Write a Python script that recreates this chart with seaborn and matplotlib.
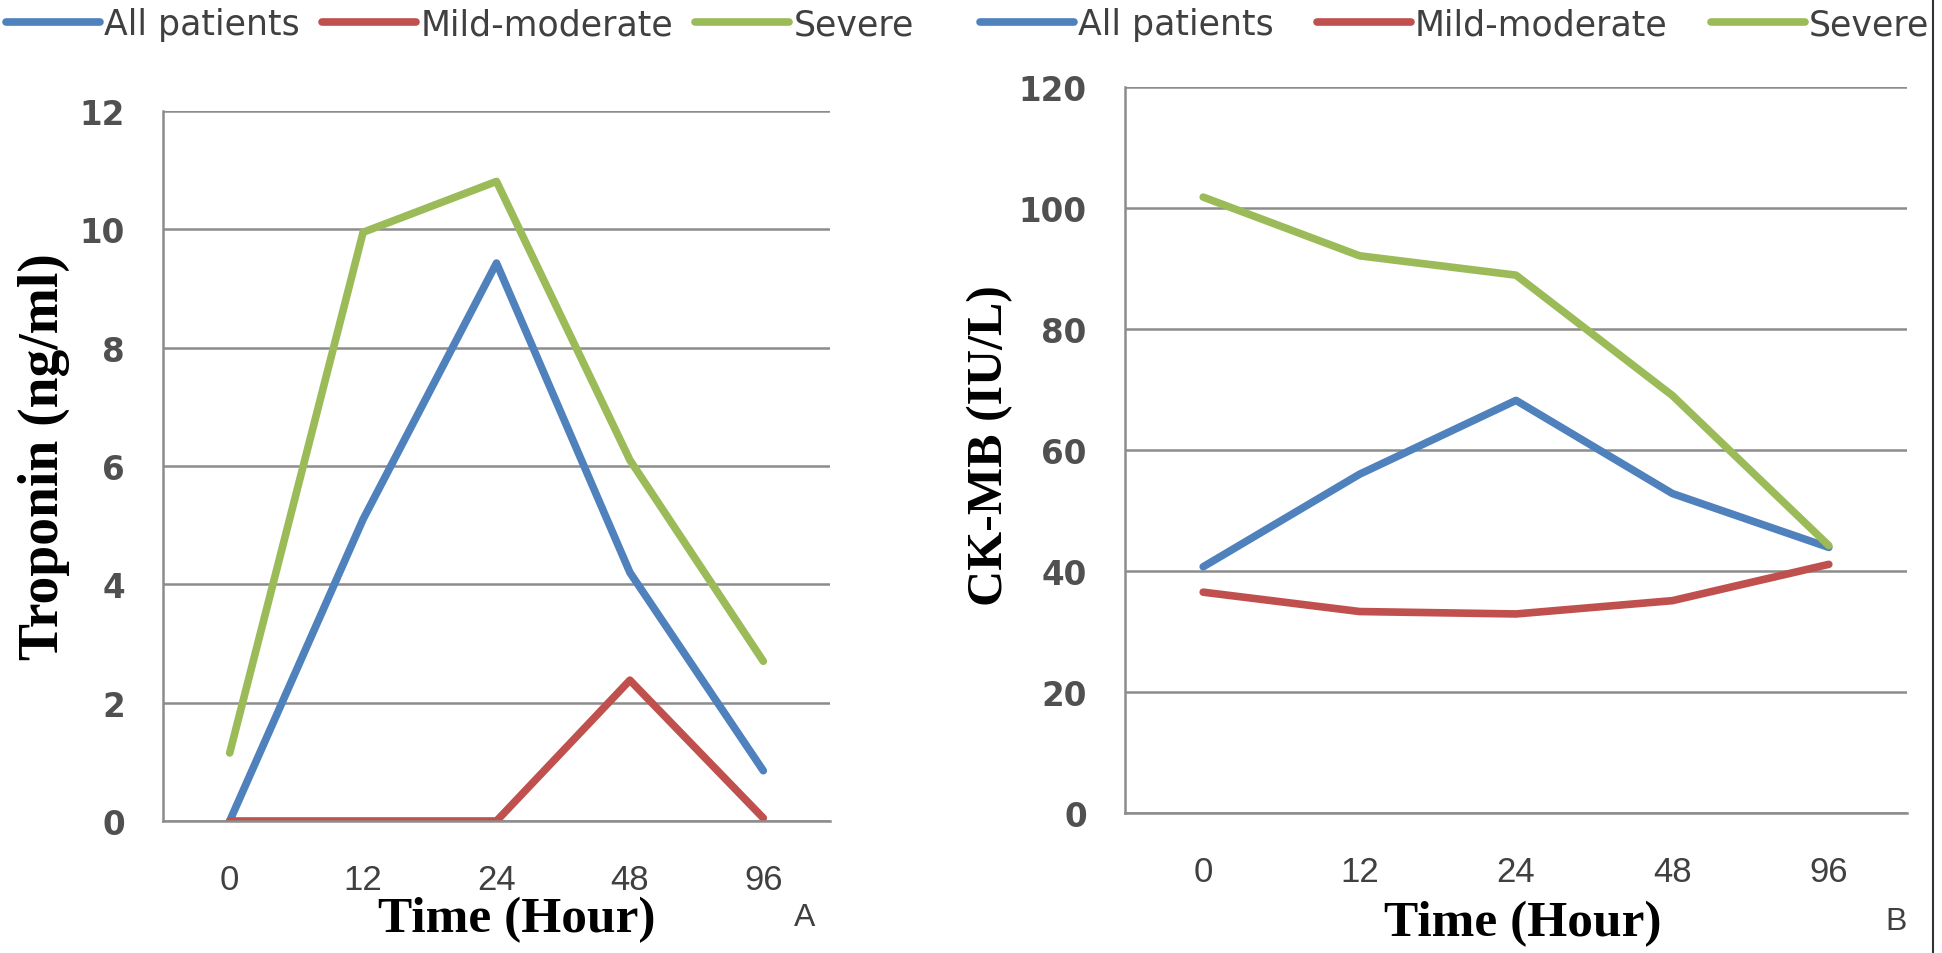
import pandas as pd
import matplotlib.pyplot as plt
import seaborn as sns
from matplotlib.lines import Line2D

# time points (categorical axis, equally spaced as in the source)
hours = ['0', '12', '24', '48', '96']
groups = ['All patients', 'Mild-moderate', 'Severe']

# panel A: troponin (ng/ml)
trop_all = [0.0, 5.1, 9.43, 4.2, 0.85]
trop_mild = [0.0, 0.0, 0.0, 2.38, 0.05]
trop_severe = [1.15, 9.95, 10.81, 6.1, 2.7]

# panel B: CK-MB (IU/L)
ckmb_all = [40.7, 56.0, 68.2, 52.8, 43.9]
ckmb_mild = [36.5, 33.3, 32.9, 35.1, 41.1]
ckmb_severe = [101.8, 92.1, 88.9, 69.0, 44.2]

palette = {'All patients': '#4F81BD', 'Mild-moderate': '#C0504D', 'Severe': '#9BBB59'}
grid_color = '#8c8c8c'
text_color = '#404040'


def long_frame(series):
    rows = []
    for name, vals in zip(groups, series):
        for i, (h, v) in enumerate(zip(hours, vals)):
            rows.append({'pos': i, 'hour': h, 'group': name, 'value': v})
    return pd.DataFrame(rows)


df_a = long_frame([trop_all, trop_mild, trop_severe])
df_b = long_frame([ckmb_all, ckmb_mild, ckmb_severe])

sns.set_style('white')
W, H = 1942, 954
fig = plt.figure(figsize=(W / 100, H / 100), dpi=100)

ax_a = fig.add_axes([163 / W, 1 - 822 / H, 667 / W, 710 / H])
ax_b = fig.add_axes([1125 / W, 1 - 814 / H, 782 / W, 726 / H])


def style_axis(ax, df, ymax, ystep, ylabel, ylab_size, ylab_xy, xlab_xy, colspace, legend_x):
    sns.lineplot(data=df, x='pos', y='value', hue='group', hue_order=groups,
                 palette=palette, linewidth=5.5, sort=False, legend=False, ax=ax)
    ax.set_xlim(-0.5, len(hours) - 0.5)
    ax.set_ylim(0, ymax)
    ax.set_xticks(range(len(hours)))
    ax.set_xticklabels(hours, family='Liberation Sans', fontsize=25, color=text_color)
    yt = list(range(0, ymax + 1, ystep))
    ax.set_yticks(yt)
    ax.set_yticklabels([str(v) for v in yt], family='DejaVu Sans', fontsize=23.5,
                       fontweight='bold', color='#505050')
    ax.tick_params(axis='x', length=0, pad=30)
    ax.tick_params(axis='y', direction='out', length=9.5, width=1.8,
                   color=grid_color, pad=18)
    ax.yaxis.grid(True, color=grid_color, linewidth=1.8)
    ax.xaxis.grid(False)
    for side in ['top', 'right']:
        ax.spines[side].set_visible(False)
    for side in ['left', 'bottom']:
        ax.spines[side].set_color(grid_color)
        ax.spines[side].set_linewidth(1.8)
    ax.set_axisbelow(True)

    ax.set_ylabel(ylabel, family='Liberation Serif', fontweight='bold',
                  fontsize=ylab_size, color='black')
    ax.yaxis.set_label_coords(*ylab_xy)
    ax.set_xlabel('Time (Hour)', family='Liberation Serif', fontweight='bold',
                  fontsize=37, color='black')
    ax.xaxis.set_label_coords(*xlab_xy)

    handles = [Line2D([], [], color=palette[g], linewidth=5.5) for g in groups]
    leg = fig.legend(handles, groups, loc='center left',
                     bbox_to_anchor=(legend_x, 1 - 25 / H), ncol=3, frameon=False,
                     prop={'family': 'DejaVu Sans', 'size': 25},
                     handlelength=2.7, handletextpad=0.12, columnspacing=colspace,
                     borderpad=0, borderaxespad=0)
    for t in leg.get_texts():
        t.set_color(text_color)


style_axis(ax_a, df_a, 12, 2, 'Troponin (ng/ml)', 40, (-0.14, 0.515), (0.531, -0.105),
           0.65, 6 / W)
style_axis(ax_b, df_b, 120, 20, 'CK-MB (IU/L)', 36, (-0.143, 0.508), (0.509, -0.12),
           1.25, 980 / W)

fig.text(805 / W, 1 - 918 / H, 'A', family='Liberation Sans', fontsize=23,
         color=text_color, ha='center', va='center')
fig.text(1896 / W, 1 - 922 / H, 'B', family='Liberation Sans', fontsize=23,
         color=text_color, ha='center', va='center')

# thin frame line at the right edge of panel B
fig.add_artist(Line2D([1933 / W, 1933 / W], [0, 1], transform=fig.transFigure,
                      color='#333333', linewidth=1.5))

fig.savefig('out.png', dpi=100, facecolor='white')
plt.close(fig)
